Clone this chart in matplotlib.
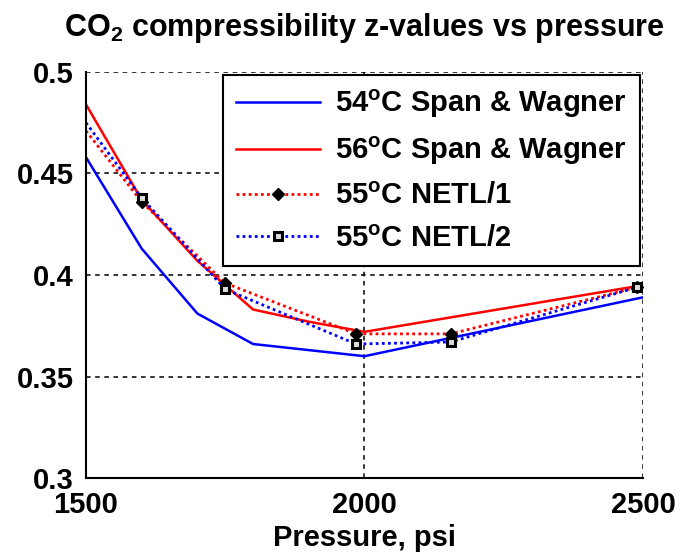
import numpy as np
import matplotlib.pyplot as plt

plt.rcParams['font.family'] = ['Liberation Sans', 'DejaVu Sans']
plt.rcParams['font.weight'] = 'bold'
plt.rcParams['mathtext.fontset'] = 'custom'
plt.rcParams['mathtext.rm'] = 'Liberation Sans:bold'
plt.rcParams['mathtext.it'] = 'Liberation Sans:bold'
plt.rcParams['mathtext.bf'] = 'Liberation Sans:bold'

# Span & Wagner curves
p_sw = [1500, 1600, 1700, 1800, 1900, 2000, 2500]
z_54 = [0.458, 0.413, 0.381, 0.366, 0.363, 0.360, 0.389]
z_56 = [0.484, 0.437, 0.407, 0.383, 0.377, 0.372, 0.395]

# NETL points
p_netl = [1500, 1600, 1750, 1985, 2155, 2490]
z_netl1 = [0.471, 0.436, 0.396, 0.371, 0.371, 0.394]
z_netl2 = [0.475, 0.438, 0.393, 0.366, 0.367, 0.394]

labels = [r"54$^\mathrm{o}$C Span & Wagner", r"56$^\mathrm{o}$C Span & Wagner",
          r"55$^\mathrm{o}$C NETL/1", r"55$^\mathrm{o}$C NETL/2"]

fig = plt.figure(figsize=(6.84, 5.57), dpi=100)
ax = fig.add_axes([0.1257, 0.1418, 0.8143, 0.7290])

ax.plot(p_sw, z_54, color='#0000ff', lw=1.8, label=labels[0])
ax.plot(p_sw, z_56, color='#ff0000', lw=1.8, label=labels[1])
ax.plot(p_netl, z_netl1, color='#ff0000', lw=2, ls=(0, (1, 1.2)), marker='D', ms=6,
        mfc='k', mec='k', markevery=[1, 2, 3, 4, 5], label=labels[2])
ax.plot(p_netl, z_netl2, color='#0000ff', lw=2, ls=(0, (1, 1.2)), marker='s', ms=5.5,
        mfc='#dddddd', mec='k', mew=2.2, markevery=[1, 2, 3, 4, 5], label=labels[3])

ax.set_xlim(1500, 2500)
ax.set_ylim(0.3, 0.5)
ax.set_xticks([1500, 2000, 2500])
ax.set_yticks([0.3, 0.35, 0.4, 0.45, 0.5])
ax.set_yticklabels(['0.3', '0.35', '0.4', '0.45', '0.5'])
ax.tick_params(length=0, labelsize=21, pad=9)
ax.tick_params(axis='x', pad=9)
ax.grid(True, color='k', ls=(0, (3, 3)), lw=1.1)
for s in ['top', 'right']:
    ax.spines[s].set_visible(False)
for s in ['left', 'bottom']:
    ax.spines[s].set_linewidth(1.5)

ax.set_xlabel("Pressure, psi", fontsize=21, fontweight='bold', labelpad=4)
ax.set_title(r"CO$_2$ compressibility z-values vs pressure", fontsize=22,
             fontweight='bold', pad=26)

leg = ax.legend(loc='upper right', bbox_to_anchor=(1, 1), borderaxespad=0.1,
                fontsize=21, handlelength=2.9, handletextpad=0.5, fancybox=False,
                framealpha=1, edgecolor='k', labelspacing=0.5, borderpad=0.45)
leg.get_frame().set_linewidth(1.5)

fig.savefig("out.png", dpi=100)
